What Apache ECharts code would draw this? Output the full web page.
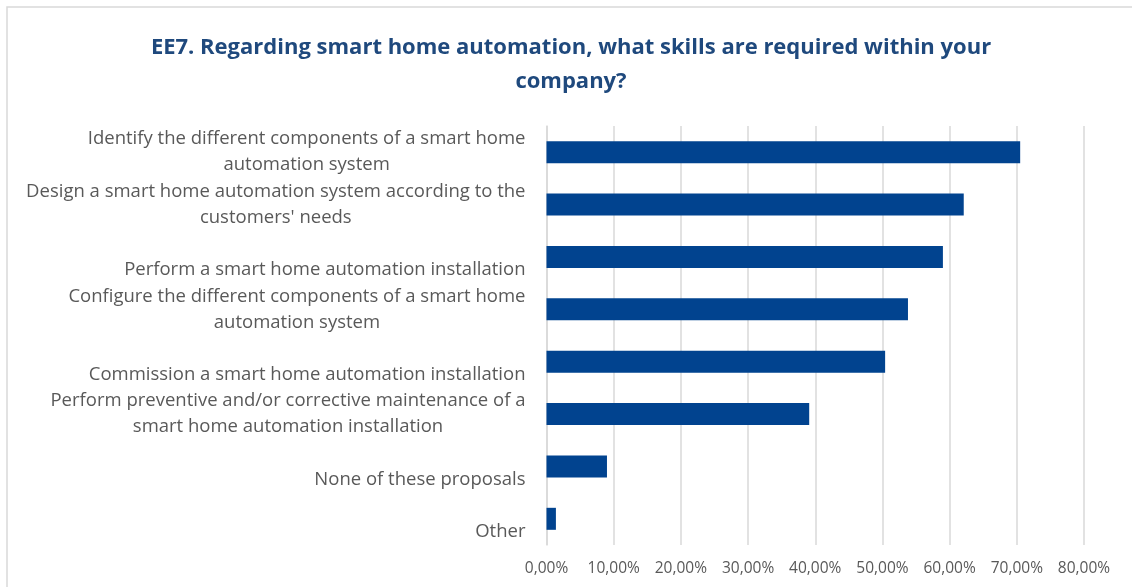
<!DOCTYPE html>
<html>
<head>
<meta charset="utf-8">
<script src="https://cdn.jsdelivr.net/npm/echarts@6/dist/echarts.min.js"></script>
<style>html,body{margin:0;padding:0;background:#fff;}#c{width:1132px;height:587px;}</style>
</head>
<body>
<div id="c"></div>
<script>
const titleText = "EE7. Regarding smart home automation, what skills are required within your\ncompany?";
const categories = [
  "Identify the different components of a smart home\nautomation system",
  "Design a smart home automation system according to the\ncustomers' needs",
  "Perform a smart home automation installation",
  "Configure the different components of a smart home\nautomation system",
  "Commission a smart home automation installation",
  "Perform preventive and/or corrective maintenance of a\nsmart home automation installation",
  "None of these proposals",
  "Other"
];
const values = [70.5, 62.1, 59.0, 53.8, 50.4, 39.1, 9.0, 1.4];
const xTicks = { min: 0, max: 80, interval: 10 };

const chart = echarts.init(document.getElementById('c'), null, { renderer: 'canvas' });
const FONT = '"Open Sans", "Noto Sans", sans-serif';
chart.setOption({
  animation: false,
  backgroundColor: '#ffffff',
  title: {
    text: titleText,
    left: 566, top: 26, textAlign: 'center',
    textStyle: { fontFamily: FONT, fontWeight: 'bold', fontSize: 22, color: '#1F497D', lineHeight: 34, align: 'center' }
  },
  graphic: [{
    type: 'rect', silent: true,
    shape: { x: 7, y: 7, width: 1300, height: 800 },
    style: { fill: 'none', stroke: '#d9d9d9', lineWidth: 1.5 }
  }],
  grid: { left: 546.5, right: 48, top: 126, bottom: 42, containLabel: false },
  xAxis: {
    type: 'value', min: xTicks.min, max: xTicks.max, interval: xTicks.interval,
    axisLine: { show: false }, axisTick: { show: false },
    splitLine: { show: true, lineStyle: { color: '#d9d9d9', width: 1.5 } },
    axisLabel: {
      margin: 16, color: '#595959', fontFamily: FONT, fontSize: 15.5,
      formatter: v => v.toFixed(2).replace('.', ',') + '%'
    }
  },
  yAxis: {
    type: 'category', inverse: true, data: categories,
    axisTick: { show: false },
    axisLine: { show: true, lineStyle: { color: '#d9d9d9', width: 1.5 } },
    axisLabel: {
      margin: 21, color: '#595959',
      formatter: function (v) {
        const lines = v.split('\n');
        if (lines.length === 1) lines.unshift('');
        return lines.map(l => '{a|' + l + '}').join('\n');
      },
      rich: { a: { align: 'center', fontFamily: FONT, fontSize: 18.5, lineHeight: 26, color: '#595959' } }
    }
  },
  series: [{
    type: 'bar', data: values, barWidth: 22,
    itemStyle: { color: '#01438F' }
  }]
});
</script>
</body>
</html>
